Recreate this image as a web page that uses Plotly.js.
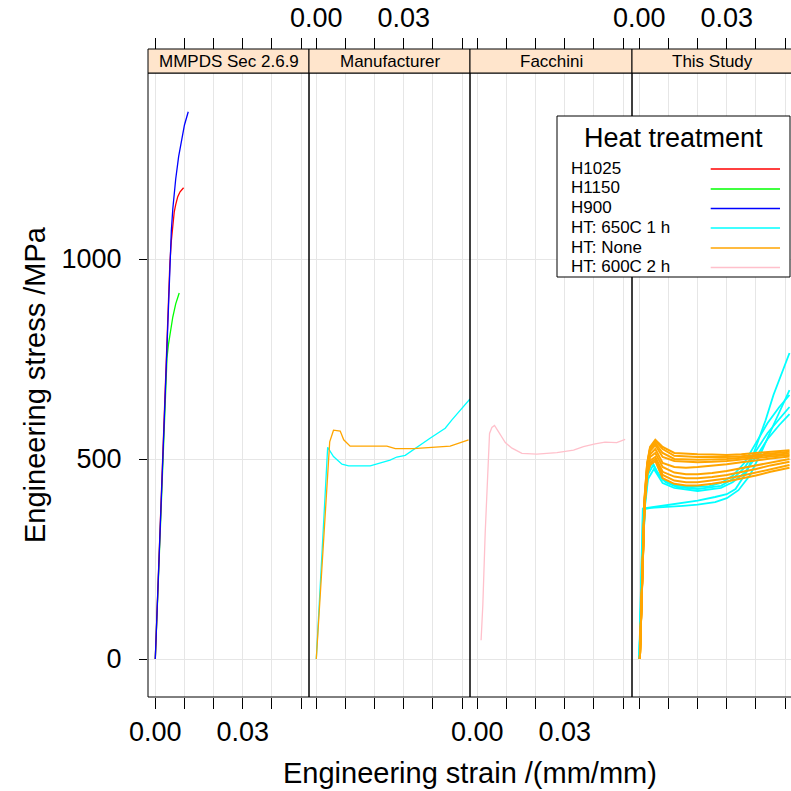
<!DOCTYPE html>
<html>
<head>
<meta charset="utf-8">
<script src="https://cdn.plot.ly/plotly-3.0.1.min.js"></script>
<style>html,body{margin:0;padding:0;background:#fff;}#chart{width:791px;height:791px;}</style>
</head>
<body>
<div id="chart"></div>
<script>
// ---------- data ----------
const panels = ["MMPDS Sec 2.6.9", "Manufacturer", "Facchini", "This Study"];
const groups = ["H1025", "H1150", "H900", "HT: 650C 1 h", "HT: None", "HT: 600C 2 h"];
const groupColors = ["#FF0000", "#00FF00", "#0000FF", "#00FFFF", "#FFA500", "#FFC0CB"];
const xTickVals = [0, 0.01, 0.02, 0.03, 0.04, 0.05];
const xTickText = ["0.00", "", "", "0.03", "", ""];
const yTickVals = [0, 500, 1000];
const yTickText = ["0", "500", "1000"];

// Panel 1: MMPDS
const mmpdsH1025Strain = [0, 0.002, 0.004, 0.005, 0.0055, 0.006, 0.0065, 0.007, 0.0077, 0.0085, 0.0097];
const mmpdsH1025Stress = [0, 400, 800, 990, 1045, 1088, 1118, 1136, 1156, 1168, 1178];
const mmpdsH1150Strain = [0, 0.002, 0.0035, 0.004, 0.0045, 0.005, 0.006, 0.007, 0.0082];
const mmpdsH1150Stress = [0, 400, 700, 752, 786, 812, 855, 888, 915];
const mmpdsH900Strain = [0, 0.002, 0.004, 0.005, 0.0055, 0.006, 0.0065, 0.007, 0.008, 0.009, 0.010, 0.0113];
const mmpdsH900Stress = [0, 400, 800, 1000, 1070, 1125, 1165, 1200, 1256, 1300, 1335, 1368];

// Panel 2: Manufacturer
const mfrNoneStrain = [0, 0.0015, 0.003, 0.0046, 0.0059, 0.0082, 0.0094, 0.0116, 0.0242, 0.0271, 0.0333, 0.0402, 0.0459, 0.0522];
const mfrNoneStress = [0, 180, 360, 543, 572, 570, 548, 532, 532, 526, 526, 529, 532, 548];
const mfr650Strain = [0, 0.0015, 0.0039, 0.0059, 0.0088, 0.0111, 0.0185, 0.0253, 0.0276, 0.0305, 0.0339, 0.039, 0.0442, 0.0465, 0.0527];
const mfr650Stress = [0, 200, 529, 506, 487, 483, 483, 497, 505, 509, 527, 552, 577, 598, 650];

// Panel 3: Facchini
const facStrain = [0.0013, 0.0019, 0.0027, 0.0033, 0.0037, 0.0042, 0.005, 0.0059, 0.0073, 0.0096, 0.0119, 0.0153, 0.0204, 0.0273, 0.033, 0.0364, 0.0404, 0.0438, 0.0478, 0.0507];
const facStress = [47, 135, 314, 422, 497, 564, 579, 584, 568, 541, 527, 514, 512, 516, 522, 531, 538, 542, 541, 549];

// Panel 4: This Study, HT: None (orange)
const studyNoneStrain = [0.0002, 0.001, 0.0018, 0.0027, 0.0037, 0.0055, 0.008, 0.012, 0.016, 0.02, 0.025, 0.03, 0.035, 0.04, 0.045, 0.0515];
const studyNone1 = [0, 205, 400, 490, 530, 548, 530, 515, 513, 512, 511, 510, 512, 515, 518, 522];
const studyNone2 = [0, 195, 395, 485, 528, 545, 525, 508, 506, 505, 505, 505, 507, 510, 514, 518];
const studyNone3 = [0, 210, 405, 488, 525, 540, 515, 500, 499, 498, 499, 500, 503, 507, 510, 514];
const studyNone4 = [0, 190, 390, 480, 520, 535, 505, 495, 493, 492, 493, 495, 499, 503, 506, 510];
const studyNone5 = [0, 200, 395, 478, 512, 525, 490, 480, 478, 480, 483, 487, 492, 497, 501, 506];
const studyNone6 = [0, 185, 385, 470, 505, 515, 480, 466, 462, 462, 465, 470, 477, 484, 492, 500];
const studyNone7 = [0, 195, 390, 468, 496, 505, 468, 456, 452, 452, 455, 460, 467, 475, 484, 493];
const studyNone8 = [0, 180, 380, 462, 490, 500, 460, 446, 442, 442, 446, 451, 458, 466, 475, 485];
const studyNone9 = [0, 190, 385, 460, 485, 495, 452, 438, 434, 434, 438, 444, 451, 459, 468, 478];

// Panel 4: This Study, HT: 650C 1 h (cyan)
const study650aStrain = [0, 0.001, 0.002, 0.003, 0.0045, 0.006, 0.008, 0.012, 0.018, 0.024, 0.028, 0.032, 0.036, 0.040, 0.044, 0.048, 0.0515];
const study650aStress = [0, 240, 400, 470, 492, 470, 448, 435, 430, 432, 440, 458, 490, 540, 590, 630, 660];
const study650bStrain = [0, 0.001, 0.002, 0.003, 0.0048, 0.0065, 0.009, 0.013, 0.02, 0.028, 0.032, 0.036, 0.040, 0.044, 0.048, 0.0515];
const study650bStress = [0, 230, 390, 462, 485, 462, 442, 430, 425, 433, 450, 478, 520, 565, 600, 630];
const study650cStrain = [0, 0.001, 0.002, 0.003, 0.005, 0.008, 0.012, 0.02, 0.028, 0.032, 0.036, 0.040, 0.044, 0.048, 0.0515];
const study650cStress = [0, 235, 385, 450, 475, 440, 428, 420, 428, 442, 465, 505, 550, 585, 612];
const study650dStrain = [0, 0.0006, 0.0012, 0.005, 0.01, 0.015, 0.02, 0.026, 0.03, 0.033, 0.037, 0.040, 0.0433, 0.046, 0.0515];
const study650dStress = [0, 190, 376, 380, 385, 390, 396, 405, 412, 425, 470, 530, 597, 660, 765];
const study650eStrain = [0, 0.0007, 0.0013, 0.004, 0.01, 0.015, 0.02, 0.026, 0.03, 0.034, 0.038, 0.042, 0.046, 0.0515];
const study650eStress = [0, 200, 374, 378, 380, 383, 386, 392, 402, 422, 460, 520, 585, 672];

// ---------- build ----------
const W = 791, H = 791;
const ML = 148, MR = 0, MT = 49, MB = 94;
const PW = W - ML - MR, PH = H - MT - MB;
const px2x = p => (p - ML) / PW;
const px2y = p => (H - MB - p) / PH;
const panelPx = [[148, 309], [309, 470], [470, 632], [632, 793]];
const pxPerUnit = 161 / 0.0552;
const xMin = -0.0025;
const yTop = px2y(73);
const axName = n => (n === 1 ? 'x' : 'x' + n);
const axKey = n => (n === 1 ? 'xaxis' : 'xaxis' + n);

const lineW = 1.3;
function tr(xs, ys, g, panel, w) {
  return {x: xs, y: ys, type: 'scatter', mode: 'lines', xaxis: axName(panel + 1), yaxis: 'y',
          line: {color: groupColors[g], width: w || lineW}, showlegend: false, hoverinfo: 'skip'};
}
const data = [
  tr(mmpdsH1150Strain, mmpdsH1150Stress, 1, 0),
  tr(mmpdsH1025Strain, mmpdsH1025Stress, 0, 0),
  tr(mmpdsH900Strain, mmpdsH900Stress, 2, 0),
  tr(mfr650Strain, mfr650Stress, 3, 1),
  tr(mfrNoneStrain, mfrNoneStress, 4, 1),
  tr(facStrain, facStress, 5, 2),
  tr(study650aStrain, study650aStress, 3, 3, 1.8),
  tr(study650bStrain, study650bStress, 3, 3, 1.8),
  tr(study650cStrain, study650cStress, 3, 3, 1.8),
  tr(study650dStrain, study650dStress, 3, 3, 1.8),
  tr(study650eStrain, study650eStress, 3, 3, 1.8),
];
[studyNone1, studyNone2, studyNone3, studyNone4, studyNone5, studyNone6, studyNone7, studyNone8, studyNone9]
  .forEach(s => data.push(tr(studyNoneStrain, s, 4, 3, 2)));

const font = "Liberation Sans, Arial, Helvetica, sans-serif";
const tickSize = 27;
const layout = {
  width: W, height: H, margin: {l: ML, r: MR, t: MT, b: MB},
  paper_bgcolor: '#fff', plot_bgcolor: '#fff', showlegend: false,
  font: {family: font, color: '#000'},
  yaxis: {domain: [0, yTop], range: [-95, 1465], tickvals: yTickVals, ticktext: yTickText,
          ticks: 'outside', ticklen: 8, tickcolor: '#000', tickwidth: 1, showgrid: true, gridcolor: '#e6e6e6',
          zeroline: false, showline: false, tickfont: {size: tickSize, family: font}, ticklabelstandoff: 12, anchor: 'x'},
  shapes: [], annotations: []
};
for (let i = 0; i < 4; i++) {
  const [a, b] = panelPx[i];
  const d0 = px2x(a), d1 = Math.min(1, px2x(b));
  const wpx = (Math.min(b, 791) - a);
  const range = [xMin, xMin + wpx / pxPerUnit];
  const bottomLabels = (i === 0 || i === 2);
  layout[axKey(i + 1)] = {
    domain: [d0, d1], range: range, anchor: 'y', tickvals: xTickVals,
    ticktext: bottomLabels ? xTickText : xTickVals.map(() => ''),
    ticks: 'outside', ticklen: 11, tickcolor: '#000', tickwidth: 1, showgrid: true, gridcolor: '#e6e6e6',
    zeroline: false, showline: false, tickfont: {size: tickSize, family: font}, ticklabelstandoff: 0
  };
  layout[axKey(i + 5)] = {
    overlaying: axName(i + 1), matches: axName(i + 1), side: 'top', anchor: 'free', position: 1,
    range: range, tickvals: xTickVals, ticktext: bottomLabels ? xTickVals.map(() => '') : xTickText,
    ticks: 'outside', ticklen: 11, tickcolor: '#000', tickwidth: 1, showgrid: false, zeroline: false,
    showline: false, tickfont: {size: tickSize, family: font}, ticklabelstandoff: 0
  };
  data.push({x: [], y: [], type: 'scatter', mode: 'lines', xaxis: axName(i + 5), yaxis: 'y', showlegend: false, hoverinfo: 'skip'});
  // panel border
  layout.shapes.push({type: 'rect', xref: 'paper', yref: 'paper', x0: px2x(a), x1: px2x(b), y0: 0, y1: yTop,
                      line: {color: '#000', width: 1}, fillcolor: 'rgba(0,0,0,0)', layer: 'above'});
  // strip
  layout.shapes.push({type: 'rect', xref: 'paper', yref: 'paper', x0: px2x(a), x1: px2x(b), y0: yTop, y1: 1,
                      line: {color: '#000', width: 1}, fillcolor: '#FFE5CC', layer: 'above'});
  layout.annotations.push({text: panels[i], xref: 'paper', yref: 'paper', x: px2x((a + b) / 2), y: px2y(61.5),
                           xanchor: 'center', yanchor: 'middle', showarrow: false, font: {size: 17, family: font}});
}
// legend (key)
layout.shapes.push({type: 'rect', xref: 'paper', yref: 'paper', x0: px2x(557), x1: px2x(790), y0: px2y(277), y1: px2y(116),
                    line: {color: '#000', width: 1}, fillcolor: '#fff', layer: 'above'});
layout.annotations.push({text: 'Heat treatment', xref: 'paper', yref: 'paper', x: px2x(673), y: px2y(138),
                         xanchor: 'center', yanchor: 'middle', showarrow: false, font: {size: 27, family: font}});
const keyY = [168, 188, 207.5, 227, 247, 266.5];
groups.forEach((g, k) => {
  layout.annotations.push({text: g, xref: 'paper', yref: 'paper', x: px2x(569), y: px2y(keyY[k]),
                           xanchor: 'left', yanchor: 'middle', showarrow: false, font: {size: 17, family: font}});
  layout.shapes.push({type: 'line', xref: 'paper', yref: 'paper', x0: px2x(710.7), x1: px2x(780), y0: px2y(keyY[k] + 1), y1: px2y(keyY[k] + 1),
                      line: {color: groupColors[k], width: 1.3}, layer: 'above'});
});
// axis titles
layout.annotations.push({text: 'Engineering stress /MPa', xref: 'paper', yref: 'paper', x: px2x(35), y: px2y(385),
                         xanchor: 'center', yanchor: 'middle', textangle: -90, showarrow: false, font: {size: 29, family: font}});
layout.annotations.push({text: 'Engineering strain /(mm/mm)', xref: 'paper', yref: 'paper', x: px2x(470), y: px2y(773),
                         xanchor: 'center', yanchor: 'middle', showarrow: false, font: {size: 29, family: font}});

Plotly.newPlot('chart', data, layout, {displayModeBar: false, staticPlot: true});
</script>
</body>
</html>
